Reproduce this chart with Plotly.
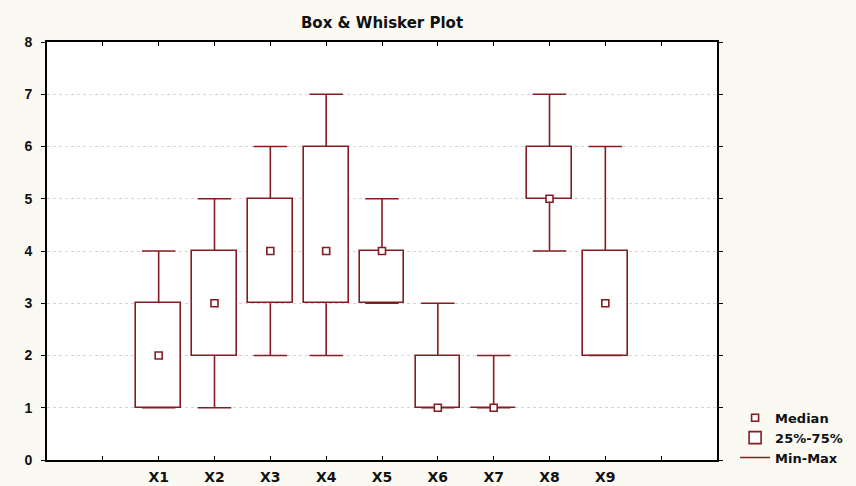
import plotly.graph_objects as go

# Summary statistics per variable
categories = ["X1", "X2", "X3", "X4", "X5", "X6", "X7", "X8", "X9"]
minimum = [1, 1, 2, 2, 3, 1, 1, 4, 2]
q1 = [1, 2, 3, 3, 3, 1, 1, 5, 2]
median = [2, 3, 4, 4, 4, 1, 1, 5, 3]
q3 = [3, 4, 5, 6, 4, 2, 1, 6, 4]
maximum = [4, 5, 6, 7, 5, 3, 2, 7, 6]

# Category positions on a numeric axis with one empty slot at each end
positions = list(range(1, len(categories) + 1))
tick_vals = list(range(0, len(categories) + 2))
tick_text = [""] + categories + [""]

MAROON = "#861c22"
BOX_WIDTH = 0.8
CAP_HALF = 0.3

# Whisker stems and caps, built from the summary arrays
wx, wy = [], []
for x, lo, b1, b3, hi in zip(positions, minimum, q1, q3, maximum):
    wx += [x, x, None, x, x, None]
    wy += [b3, hi, None, b1, lo, None]
    wx += [x - CAP_HALF, x + CAP_HALF, None, x - CAP_HALF, x + CAP_HALF, None]
    wy += [hi, hi, None, lo, lo, None]

fig = go.Figure()

fig.add_trace(go.Bar(
    x=positions,
    base=q1,
    y=[b - a for a, b in zip(q1, q3)],
    width=BOX_WIDTH,
    marker=dict(color="white", line=dict(color=MAROON, width=1.6)),
    name="25%-75%",
    legendrank=2,
    hoverinfo="skip",
))

fig.add_trace(go.Scatter(
    x=wx, y=wy,
    mode="lines",
    line=dict(color=MAROON, width=1.6),
    name="Min-Max",
    legendrank=3,
    hoverinfo="skip",
))

fig.add_trace(go.Scatter(
    x=positions, y=median,
    mode="markers",
    marker=dict(symbol="square", size=7, color="white",
                line=dict(color=MAROON, width=1.6)),
    name="Median",
    legendrank=1,
))

fig.update_layout(
    width=856, height=486,
    margin=dict(l=47, r=139, t=42, b=26, autoexpand=False),
    paper_bgcolor="#fafaf3",
    plot_bgcolor="white",
    showlegend=True,
    bargap=0,
    title=dict(
        text="Box & Whisker Plot",
        x=0.5, xref="paper", xanchor="center",
        y=1 - 22.5 / 486, yref="container", yanchor="middle",
        font=dict(family="DejaVu Sans", size=15, weight="bold", color="#111"),
    ),
    legend=dict(
        x=1.027, xanchor="left",
        y=0.137, yanchor="top",
        bgcolor="rgba(0,0,0,0)",
        font=dict(family="DejaVu Sans", size=13, weight="bold", color="#111"),
    ),
)

fig.update_xaxes(
    range=[-1, len(categories) + 2],
    tickmode="array", tickvals=tick_vals, ticktext=tick_text,
    ticks="inside", ticklen=4, tickcolor="black",
    ticklabelstandoff=3, automargin=False,
    showline=True, linecolor="black", linewidth=1.8, mirror="ticks",
    showgrid=False, zeroline=False,
    tickfont=dict(family="DejaVu Sans", size=14, weight="bold", color="#111"),
)

fig.update_yaxes(
    range=[0, 8], dtick=1,
    ticks="outside", ticklen=4, tickcolor="black",
    ticklabelstandoff=6, automargin=False,
    showline=True, linecolor="black", linewidth=1.8, mirror="ticks",
    showgrid=True, gridcolor="#d6d6d6", griddash="dot", gridwidth=1,
    zeroline=False,
    tickfont=dict(family="Liberation Sans", size=14, weight="bold", color="#111"),
)

fig.write_html("out.html")
